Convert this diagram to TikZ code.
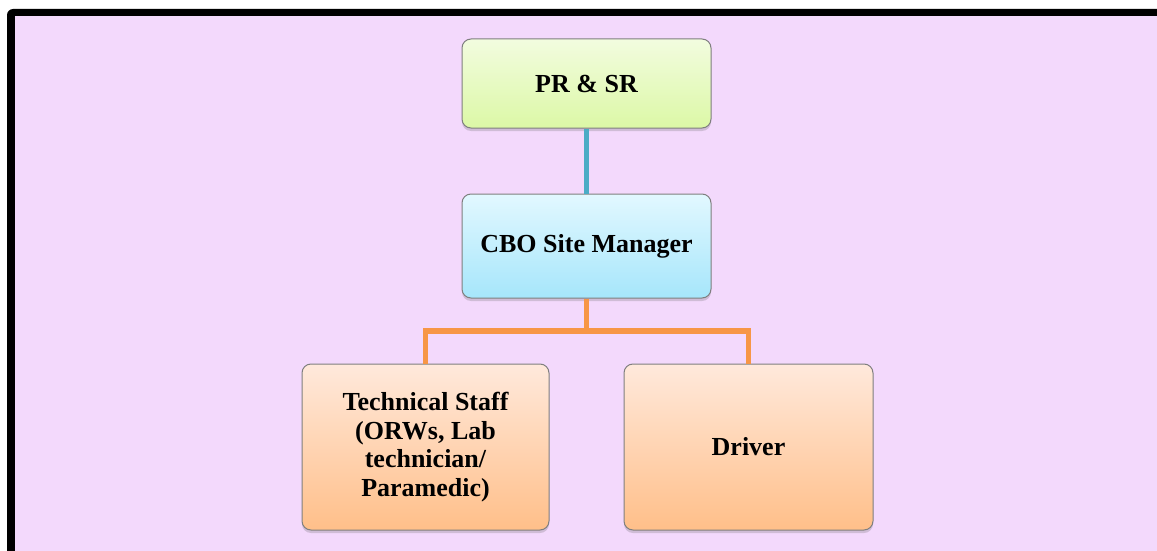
\documentclass[tikz,border=0pt]{standalone}
\usepackage{fontspec}
\setmainfont{Liberation Serif}
\usetikzlibrary{shadows}
\definecolor{bgpink}{HTML}{F3D9FC}
\definecolor{edgegray}{HTML}{7F7F7F}
\definecolor{gtop}{HTML}{F2FCDF}
\definecolor{gbot}{HTML}{DCF8A6}
\definecolor{ctop}{HTML}{E2F8FF}
\definecolor{cbot}{HTML}{A6E6FB}
\definecolor{ptop}{HTML}{FFE9DC}
\definecolor{pbot}{HTML}{FFBF89}
\definecolor{blueline}{HTML}{4BACC6}
\definecolor{orangeline}{HTML}{F79646}
\tikzset{
  box/.style={draw=edgegray, line width=1pt, rounded corners=9pt, align=center,
    font=\fontsize{26}{28.5}\selectfont\bfseries, inner sep=0pt,
    drop shadow={shadow xshift=0pt, shadow yshift=-3pt, opacity=0.25, fill=black!60}},
  greenbox/.style={box, top color=gtop, bottom color=gbot},
  cyanbox/.style={box, top color=ctop, bottom color=cbot},
  peachbox/.style={box, top color=ptop, bottom color=pbot},
  conn/.style={line width=5.5pt},
}
\begin{document}
\begin{tikzpicture}[x=1pt,y=-1pt]
\useasboundingbox (0,0) rectangle (1157,551);
\fill[black, rounded corners=6pt] (7,9) rectangle (1170,570);
\fill[bgpink] (15,16) rectangle (1157,551);
\node[greenbox, minimum width=249pt, minimum height=89pt] (pr) at (586.5,83.5) {PR \& SR};
\node[cyanbox, minimum width=249pt, minimum height=104pt] (cbo) at (586.5,246) {CBO Site Manager};
\node[peachbox, minimum width=247pt, minimum height=166pt] (tech) at (425.5,447) {Technical Staff\\(ORWs, Lab\\technician/\\Paramedic)};
\node[peachbox, minimum width=249pt, minimum height=166pt] (drv) at (748.5,447) {Driver};
\coordinate (mid) at (586.5,331);
\draw[conn, blueline] (pr.south) -- (cbo.north);
\draw[conn, orangeline] (cbo.south) -- (mid);
\draw[conn, orangeline, line join=miter] (tech.north) |- (mid) -| (drv.north);
\end{tikzpicture}
\end{document}
